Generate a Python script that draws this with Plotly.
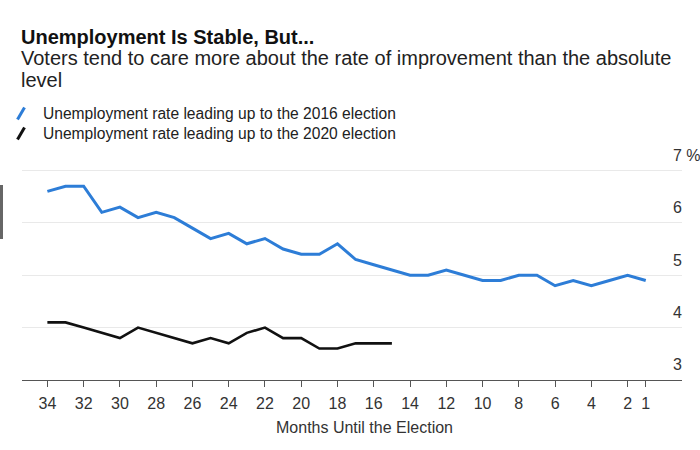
import plotly.graph_objects as go

months_2016 = list(range(34, 0, -1))
rate_2016 = [6.6, 6.7, 6.7, 6.2, 6.3, 6.1, 6.2, 6.1, 5.9, 5.7, 5.8, 5.6, 5.7, 5.5, 5.4, 5.4,
             5.6, 5.3, 5.2, 5.1, 5.0, 5.0, 5.1, 5.0, 4.9, 4.9, 5.0, 5.0, 4.8, 4.9, 4.8, 4.9,
             5.0, 4.9]
months_2020 = list(range(34, 14, -1))
rate_2020 = [4.1, 4.1, 4.0, 3.9, 3.8, 4.0, 3.9, 3.8, 3.7, 3.8, 3.7, 3.9, 4.0, 3.8, 3.8, 3.6,
             3.6, 3.7, 3.7, 3.7]
x_tickvals = [34, 32, 30, 28, 26, 24, 22, 20, 18, 16, 14, 12, 10, 8, 6, 4, 2, 1]
y_tickvals = [3, 4, 5, 6, 7]
y_ticktext = ["3", "4", "5", "6", "7 %"]
legend_labels = ["Unemployment rate leading up to the 2016 election",
                 "Unemployment rate leading up to the 2020 election"]
title = "Unemployment Is Stable, But..."
subtitle_lines = ["Voters tend to care more about the rate of improvement than the absolute", "level"]
x_title = "Months Until the Election"

BLUE = "#2d7dd7"
BLACK = "#111111"
FONT = "Liberation Sans, Arial, Helvetica, sans-serif"

W, H = 700, 450
L, R, T, B = 22, 18, 160, 70
PW, PH = W - L - R, H - T - B


def px(x):
    return (x - L) / PW


def py(y):
    return (H - B - y) / PH


fig = go.Figure()
fig.add_trace(go.Scatter(x=months_2016, y=rate_2016, mode="lines",
                         line=dict(color=BLUE, width=3), showlegend=False, hoverinfo="skip"))
fig.add_trace(go.Scatter(x=months_2020, y=rate_2020, mode="lines",
                         line=dict(color=BLACK, width=2.6), showlegend=False, hoverinfo="skip"))

annotations = [
    dict(text="<b>" + title + "</b>", x=px(19), y=py(37), xanchor="left", yanchor="middle",
         font=dict(size=20, color="#111", family=FONT)),
    dict(text=subtitle_lines[0], x=px(19), y=py(58), xanchor="left", yanchor="middle",
         font=dict(size=20, color="#222", family=FONT)),
    dict(text=subtitle_lines[1], x=px(19), y=py(80), xanchor="left", yanchor="middle",
         font=dict(size=20, color="#222", family=FONT)),
    dict(text=legend_labels[0], x=px(41), y=py(113), xanchor="left", yanchor="middle",
         font=dict(size=15.6, color="#222", family=FONT)),
    dict(text=legend_labels[1], x=px(41), y=py(133), xanchor="left", yanchor="middle",
         font=dict(size=15.6, color="#222", family=FONT)),
    dict(text=x_title, x=px(364), y=py(427), xanchor="center", yanchor="middle",
         font=dict(size=16, color="#333", family=FONT)),
]
for a in annotations:
    a.update(xref="paper", yref="paper", showarrow=False)

shapes = [
    dict(type="line", xref="paper", yref="paper", x0=px(17.5), y0=py(119.5), x1=px(24.5), y1=py(107.5),
         line=dict(color=BLUE, width=3)),
    dict(type="line", xref="paper", yref="paper", x0=px(17.5), y0=py(139.5), x1=px(24.5), y1=py(127.5),
         line=dict(color=BLACK, width=3)),
    dict(type="rect", xref="paper", yref="paper", x0=px(0), y0=py(239), x1=px(3), y1=py(185),
         fillcolor="#666", line=dict(width=0)),
]

fig.update_layout(
    width=W, height=H,
    margin=dict(l=L, r=R, t=T, b=B, autoexpand=False),
    paper_bgcolor="white", plot_bgcolor="white",
    font=dict(family=FONT, color="#333"),
    annotations=annotations, shapes=shapes,
)
fig.update_xaxes(range=[35.4, -1], tickvals=x_tickvals, ticks="outside", ticklen=6,
                 tickcolor="#555", tickwidth=1.2, showline=True, linecolor="#555", linewidth=1.4,
                 showgrid=False, zeroline=False, automargin=False, ticklabelstandoff=3,
                 tickfont=dict(size=16, color="#333", family=FONT))
fig.update_yaxes(range=[3, 7.2], tickvals=y_tickvals, ticktext=y_ticktext, side="right",
                 ticklabelposition="outside top", ticklabelstandoff=-10, ticklabelshift=-4,
                 showgrid=True, gridcolor="#e9e9e9", gridwidth=1, zeroline=False, showline=False,
                 automargin=False, tickfont=dict(size=16, color="#333", family=FONT))

fig.write_html("out.html", config={"displayModeBar": False},
               post_script="document.body.style.margin='0';")
